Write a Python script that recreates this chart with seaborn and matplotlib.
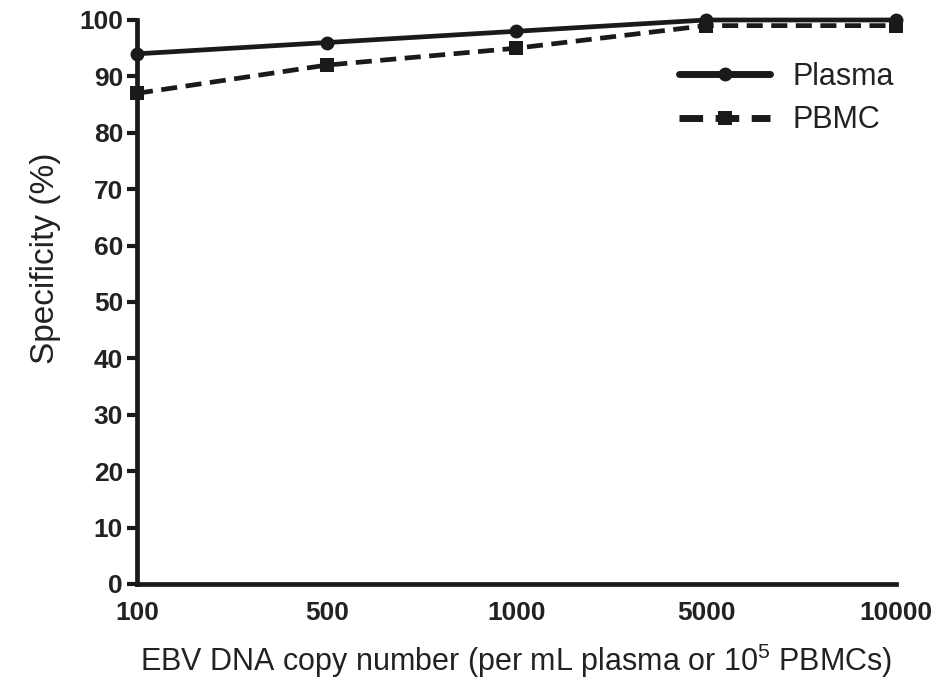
import pandas as pd
import seaborn as sns
import matplotlib
matplotlib.use("Agg")
import matplotlib.pyplot as plt

# ------------------------------------------------------------
# Data
# ------------------------------------------------------------
copy_numbers = ["100", "500", "1000", "5000", "10000"]
plasma_spec = [94, 96, 98, 100, 100]
pbmc_spec = [87, 92, 95, 99, 99]
y_ticks = list(range(0, 101, 10))

df = pd.DataFrame({
    "copy": copy_numbers * 2,
    "spec": plasma_spec + pbmc_spec,
    "sample": ["Plasma"] * len(copy_numbers) + ["PBMC"] * len(copy_numbers),
})

sns.set_style("ticks")
plt.rcParams["font.family"] = ["Liberation Sans", "DejaVu Sans"]
plt.rcParams["mathtext.fontset"] = "custom"
plt.rcParams["mathtext.rm"] = "Liberation Sans"

ink = "#1a1a1a"
text_col = "#222222"

fig = plt.figure(figsize=(9.35, 6.8), dpi=100)
ax = fig.add_axes([0.1465, 0.1412, 0.958 - 0.1465, 0.9706 - 0.1412])

sns.lineplot(
    data=df,
    x="copy",
    y="spec",
    hue="sample",
    style="sample",
    palette={"Plasma": ink, "PBMC": ink},
    markers={"Plasma": "o", "PBMC": "s"},
    dashes={"Plasma": "", "PBMC": (3.4, 1.8)},
    markersize=10,
    markeredgewidth=0,
    linewidth=3.4,
    sort=False,
    ax=ax,
    clip_on=False,
)

ax.set_xlim(0, len(copy_numbers) - 1)
ax.set_ylim(0, 100)
ax.set_yticks(y_ticks)
ax.set_xticks(range(len(copy_numbers)))
ax.set_xticklabels(copy_numbers)

for side in ["top", "right"]:
    ax.spines[side].set_visible(False)
for side in ["left", "bottom"]:
    ax.spines[side].set_linewidth(3.4)
    ax.spines[side].set_color(ink)

ax.tick_params(axis="y", length=7, width=3, color=ink, pad=3,
               labelsize=19, labelcolor=text_col)
ax.tick_params(axis="x", length=0, pad=12, labelsize=19,
               labelcolor=text_col)
for lbl in ax.get_xticklabels() + ax.get_yticklabels():
    lbl.set_fontweight("bold")

ax.set_xlabel("EBV DNA copy number (per mL plasma or 10$^5$ PBMCs)",
              fontsize=22, color=text_col, labelpad=12)
ax.set_ylabel("Specificity (%)", fontsize=24, color=text_col)
ax.yaxis.set_label_coords(-0.1, 0.578)

leg = ax.legend(
    loc="upper right",
    bbox_to_anchor=(1.034, 0.975),
    frameon=False,
    fontsize=22,
    handlelength=2.95,
    handletextpad=0.75,
    labelspacing=0.45,
    labelcolor=text_col,
)
for line in leg.get_lines():
    line.set_linewidth(5)

plt.savefig("out.png", dpi=100)
